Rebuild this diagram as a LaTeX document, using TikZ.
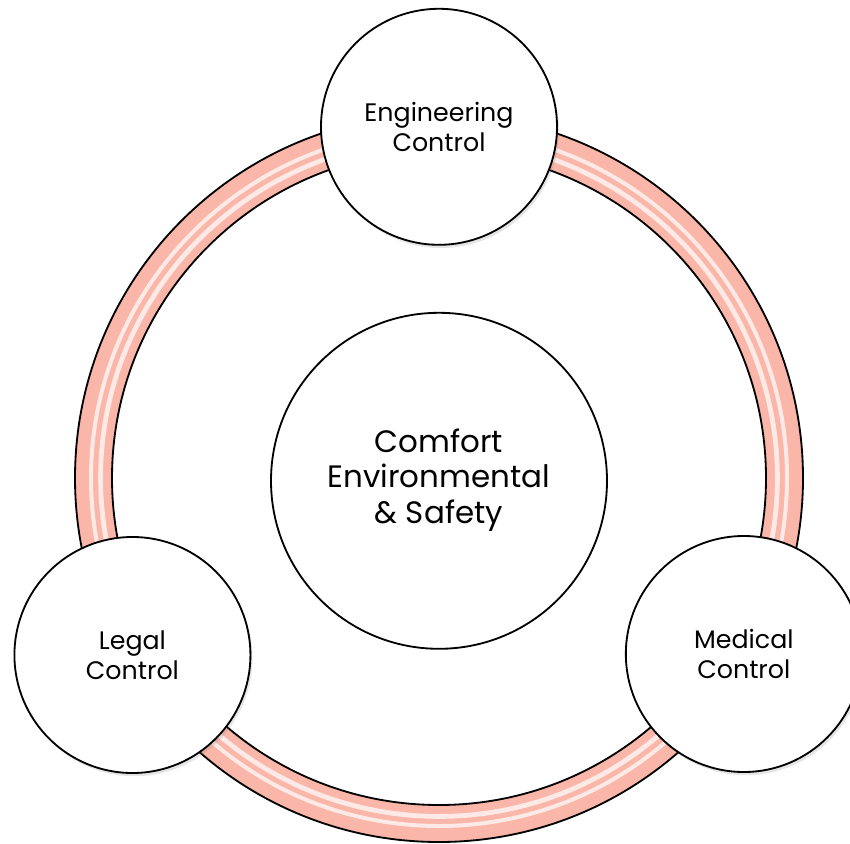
\documentclass[tikz,border=0pt]{standalone}
\usepackage{fontspec}
\setmainfont{Poppins}
\usetikzlibrary{shadows}
\definecolor{ringpink}{RGB}{250,182,168}
\tikzset{
  ctrl/.style={circle,draw,line width=1.3pt,fill=white,minimum size=5.9cm,align=center,
    font=\fontsize{18}{21}\selectfont,
    drop shadow={opacity=.2,shadow xshift=.5mm,shadow yshift=-.8mm}},
  hub/.style={circle,draw,line width=1.3pt,fill=white,minimum size=8.4cm,align=center,
    font=\fontsize{22}{25.5}\selectfont}
}
\begin{document}
\begin{tikzpicture}
\useasboundingbox (0,0) rectangle (21.25,-21.075);
\fill[white] (0,0) rectangle (21.25,-21.075);
\coordinate (c) at (10.975,-11.95);
% pink ring with two light stripes
\fill[ringpink,even odd rule] (c) circle (9.1) circle (8.175);
\draw[white,opacity=.7,line width=.1cm] (c) circle (8.7);
\draw[white,opacity=.7,line width=.12cm] (c) circle (8.46);
\draw[line width=1.3pt] (c) circle (9.1) (c) circle (8.175);
% hub and the three controls
\node[hub] (hub) at ([yshift=-.07cm]c) {\raisebox{-.15cm}{\begin{tabular}{@{}c@{}}Comfort\\Environmental\\\& Safety\end{tabular}}};
\node[ctrl] (eng) at ([shift={(90:8.78)}]c) {Engineering\\Control};
\node[ctrl] (legal) at ([shift={(210:8.85)}]c) {Legal\\Control};
\node[ctrl] (med) at ([shift={(330:8.8)}]c) {Medical\\Control};
\end{tikzpicture}
\end{document}
